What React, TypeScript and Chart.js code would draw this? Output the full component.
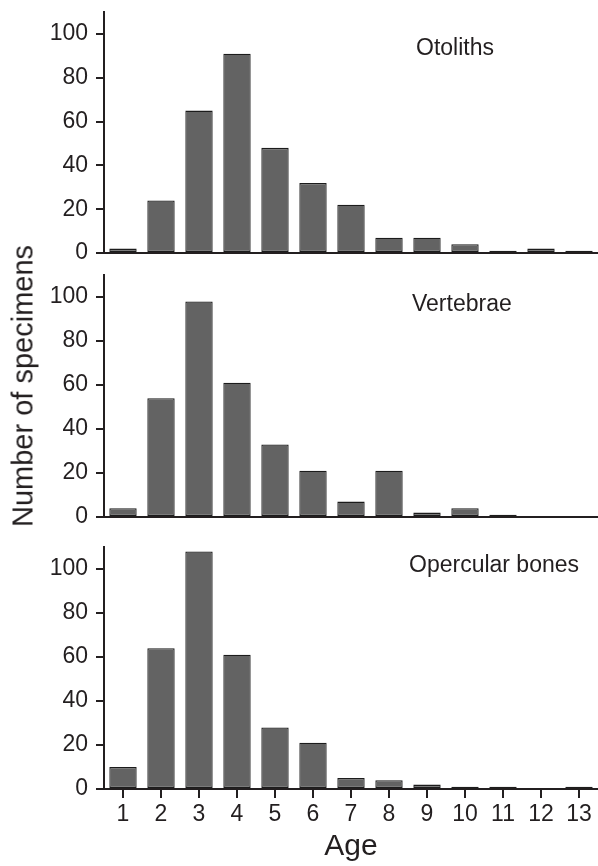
import React, { useEffect, useRef } from 'react';
import { Chart, registerables } from 'chart.js';

Chart.register(...registerables);

// ---- data ----
const ages = ['1', '2', '3', '4', '5', '6', '7', '8', '9', '10', '11', '12', '13'];
const otoliths = [2, 24, 65, 91, 48, 32, 22, 7, 7, 4, 1, 2, 1];
const vertebrae = [4, 54, 98, 61, 33, 21, 7, 21, 2, 4, 1, 0, 0];
const opercularBones = [10, 64, 108, 61, 28, 21, 5, 4, 2, 1, 1, 0, 1];
const yTickValues = [0, 20, 40, 60, 80, 100];
const panelNames = ['Otoliths', 'Vertebrae', 'Opercular bones'];
const yTitle = 'Number of specimens';
const xTitle = 'Age';

// ---- styles / layout ----
const FONT = '"Liberation Sans", Arial, Helvetica, sans-serif';
const INK = '#231f20';
const BAR = '#636363';
const EDGE = '#1c1c1c';

const PANELS = [
  { top: 0, height: 268, chartTop: 12, chartBottom: 253, labelX: 416, labelY: 47, showX: false },
  { top: 262, height: 268, chartTop: 275, chartBottom: 517, labelX: 412, labelY: 303, showX: false },
  { top: 530, height: 336, chartTop: 547, chartBottom: 789, labelX: 409, labelY: 564, showX: true },
];

type PanelCfg = (typeof PANELS)[number];

function Panel({ values, cfg }: { values: number[]; cfg: PanelCfg }) {
  const ref = useRef<HTMLCanvasElement>(null);
  useEffect(() => {
    if (!ref.current) return;
    const xScaleHeight = cfg.top + cfg.height - cfg.chartBottom;
    const chart = new Chart(ref.current, {
      type: 'bar',
      data: {
        labels: ages,
        datasets: [
          {
            data: values,
            backgroundColor: BAR,
            borderColor: EDGE,
            borderWidth: 1.3,
            borderSkipped: false,
            barPercentage: 0.72,
            categoryPercentage: 1,
          },
        ],
      },
      options: {
        animation: false,
        responsive: false,
        maintainAspectRatio: false,
        layout: { padding: { top: cfg.chartTop - cfg.top, left: 0, right: 0, bottom: 0 } },
        plugins: { legend: { display: false }, tooltip: { enabled: false } },
        scales: {
          x: {
            offset: true,
            grid: {
              display: cfg.showX,
              offset: false,
              drawOnChartArea: false,
              drawTicks: true,
              tickLength: 9,
              color: INK,
              lineWidth: 2,
            },
            border: { display: true, color: INK, width: 2 },
            ticks: {
              display: cfg.showX,
              color: INK,
              font: { family: FONT, size: 23 },
              padding: 3,
              maxRotation: 0,
              autoSkip: false,
            },
            title: {
              display: cfg.showX,
              text: xTitle,
              color: INK,
              font: { family: FONT, size: 30 },
              padding: { top: 0, bottom: 1 },
            },
            afterFit: (s: any) => {
              s.height = xScaleHeight;
              s.paddingLeft = 0;
              s.paddingRight = 0;
            },
          },
          y: {
            min: 0,
            max: 110,
            afterBuildTicks: (s: any) => {
              s.ticks = yTickValues.map((v) => ({ value: v }));
            },
            afterFit: (s: any) => {
              s.width = 104;
              s.paddingTop = 0;
              s.paddingBottom = 0;
            },
            grid: {
              drawOnChartArea: false,
              drawTicks: true,
              tickLength: 8,
              color: INK,
              lineWidth: 2,
            },
            border: { display: true, color: INK, width: 2 },
            ticks: {
              color: INK,
              font: { family: FONT, size: 23 },
              padding: 8,
            },
          },
        },
      },
    });
    return () => chart.destroy();
  }, [values, cfg]);

  return (
    <canvas
      ref={ref}
      width={598}
      height={cfg.height}
      style={{ position: 'absolute', left: 0, top: cfg.top, width: 598, height: cfg.height }}
    />
  );
}

export default function App() {
  const series = [otoliths, vertebrae, opercularBones];
  return (
    <div style={{ position: 'absolute', left: 0, top: 0, width: 598, height: 866, background: '#fff', overflow: 'hidden' }}>
      {PANELS.map((cfg, i) => (
        <Panel key={i} values={series[i]} cfg={cfg} />
      ))}
      {PANELS.map((cfg, i) => (
        <div
          key={'l' + i}
          style={{
            position: 'absolute',
            left: cfg.labelX,
            top: cfg.labelY,
            transform: 'translateY(-50%)',
            font: `23px ${FONT}`,
            lineHeight: '23px',
            color: INK,
            whiteSpace: 'nowrap',
          }}
        >
          {panelNames[i]}
        </div>
      ))}
      <div
        style={{
          position: 'absolute',
          left: 22.5,
          top: 386,
          transform: 'translate(-50%, -50%) rotate(-90deg)',
          font: `29px ${FONT}`,
          lineHeight: '29px',
          color: INK,
          whiteSpace: 'nowrap',
        }}
      >
        {yTitle}
      </div>
    </div>
  );
}
